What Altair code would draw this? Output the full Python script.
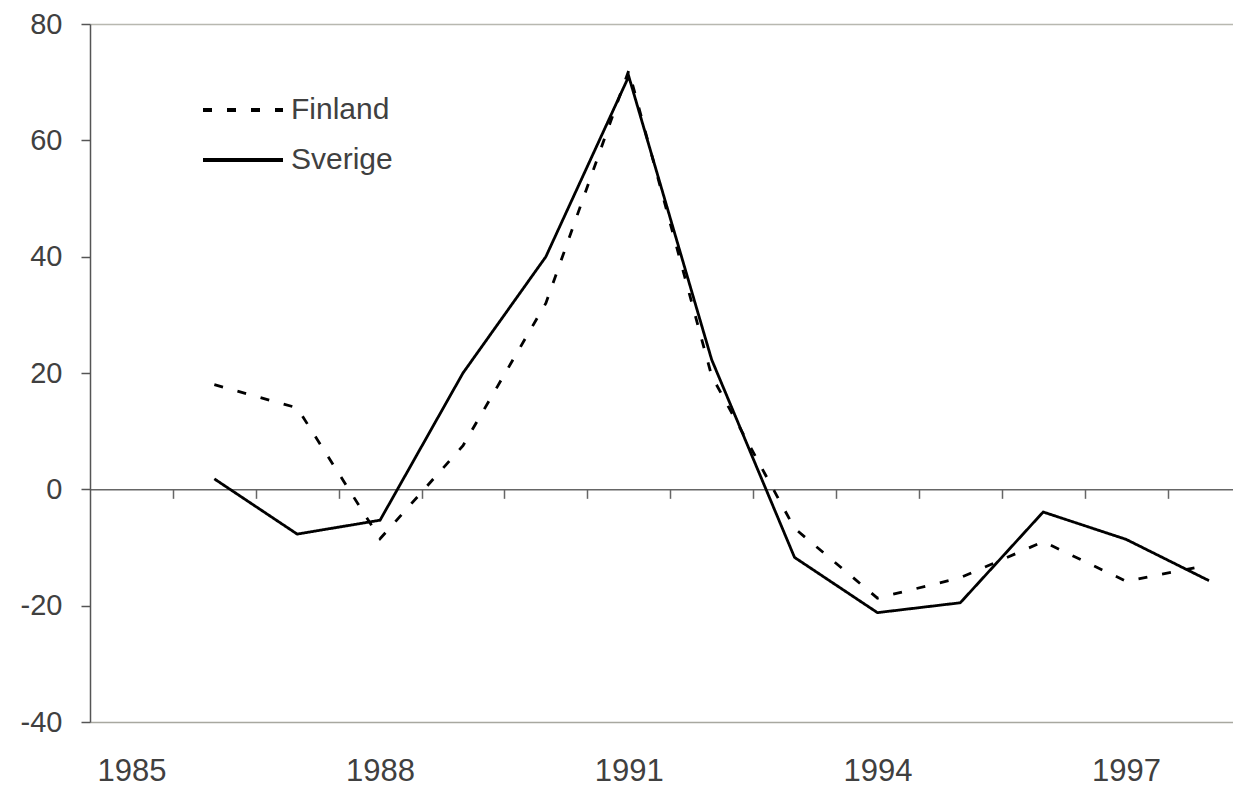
import altair as alt
import pandas as pd

years = list(range(1986, 1999))
countries = ["Finland", "Sverige"]
finland = [18, 14, -8.5, 7.5, 32, 72, 19.5, -6.7, -18.7, -15.2, -9, -15.8, -13]
sverige = [1.8, -7.7, -5.3, 20, 40, 71, 22.3, -11.7, -21.2, -19.5, -3.9, -8.6, -15.7]
year_labels = [1985, 1988, 1991, 1994, 1997]
y_ticks = [-40, -20, 0, 20, 40, 60, 80]

rows = []
for c, vals in zip(countries, [finland, sverige]):
    for yr, v in zip(years, vals):
        rows.append({"year": yr, "value": v, "country": c})
df = pd.DataFrame(rows)

x_domain = [1984.5, 1998.29]
boundaries = [y - 0.5 for y in years] + [years[-1] + 0.5]
boundaries = [b for b in boundaries if x_domain[0] < b < x_domain[1]]

FONT = "Liberation Sans"
TXT = "#404040"
H = 698

x_scale = alt.Scale(domain=x_domain, nice=False, zero=False)
y_scale = alt.Scale(domain=[-40, 80], nice=False, zero=False)

lines = alt.Chart(df).mark_line(color="black", strokeWidth=2.8).encode(
    x=alt.X(
        "year:Q",
        scale=x_scale,
        axis=alt.Axis(
            orient="bottom",
            values=year_labels,
            labelExpr="'' + datum.value",
            ticks=False,
            grid=False,
            title=None,
            domainColor="#a8a8a0",
            domainWidth=1.5,
            labelFont=FONT,
            labelFontSize=31,
            labelColor=TXT,
            labelPadding=34,
        ),
    ),
    y=alt.Y(
        "value:Q",
        scale=y_scale,
        axis=alt.Axis(
            values=y_ticks,
            labelExpr="'' + datum.value",
            title=None,
            grid=True,
            gridColor="#b8b8b0",
            gridWidth=1.5,
            gridOpacity=alt.condition("datum.value == 80", alt.value(1), alt.value(0)),
            domainColor="#555555",
            domainWidth=1.5,
            tickColor="#555555",
            tickWidth=1.5,
            tickSize=9,
            labelFont=FONT,
            labelFontSize=29,
            labelColor=TXT,
            labelPadding=19,
        ),
    ),
    strokeDash=alt.StrokeDash(
        "country:N",
        scale=alt.Scale(domain=countries, range=[[9, 15], [1, 0]]),
        legend=alt.Legend(
            orient="none",
            legendX=111,
            legendY=71,
            title=None,
            symbolType="stroke",
            symbolSize=6400,
            symbolStrokeWidth=4,
            symbolStrokeColor="black",
            labelFont=FONT,
            labelFontSize=30,
            labelColor=TXT,
            labelOffset=6,
            clipHeight=30,
            rowPadding=20,
            padding=0,
        ),
    ),
)

zero_axis = alt.Chart(df).mark_point(opacity=0).encode(
    x=alt.X(
        "year:Q",
        scale=x_scale,
        axis=alt.Axis(
            orient="bottom",
            offset=-H * 40 / 120,
            values=boundaries,
            labels=False,
            ticks=True,
            tickSize=9,
            tickColor="#666666",
            tickWidth=1.5,
            domainColor="#666666",
            domainWidth=1.5,
            grid=False,
            title=None,
        ),
    ),
    y=alt.Y("value:Q", scale=y_scale),
)

chart = (
    alt.layer(zero_axis, lines)
    .resolve_scale(x="independent")
    .properties(
        width=1143,
        height=H,
        autosize=alt.AutoSizeParams(type="none"),
        padding={"left": 82, "top": 16, "right": 0, "bottom": 68},
        background="white",
    )
    .configure_view(stroke=None)
)

chart.save("out.html", embed_options={"renderer": "svg", "actions": False})
